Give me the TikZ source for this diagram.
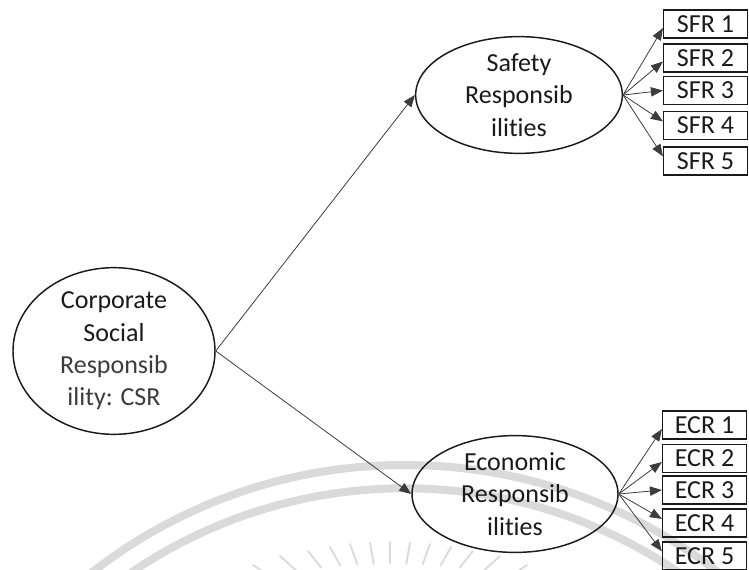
\documentclass[tikz,border=0pt]{standalone}
\usepackage{fontspec}
\setmainfont{Carlito}[Ligatures=NoCommon]
\usetikzlibrary{shapes.geometric,arrows.meta,calc}
\definecolor{ink}{HTML}{1A1A1A}
\definecolor{inksoft}{HTML}{3C3C3C}
\definecolor{wmgray}{HTML}{DADADA}
\begin{document}
\begin{tikzpicture}[x=0.75pt,y=-0.75pt,
  every node/.style={font=\fontsize{19.5}{24.2}\selectfont, text=ink},
  construct/.style={draw=ink, line width=1.1pt, ellipse, inner sep=0pt, align=center},
  indicator/.style={draw=ink, line width=0.9pt, rectangle, minimum width=63pt,
                    minimum height=21pt, inner sep=0pt},
  loading/.style={draw=ink!85, line width=0.6pt, -{Triangle[length=9pt,width=7pt]}},
  wmband/.style={draw=wmgray, line width=6pt},
  wmtick/.style={draw=wmgray, line width=1.4pt, line cap=round}]
\useasboundingbox (0,0) rectangle (749,570);

% faint seal in the background: two rings and a sunburst
\begin{scope}
  \clip (0,0) rectangle (749,570);
  \coordinate (wm) at (405,975);
  \draw[wmband] (wm) circle[radius=382.5pt];
  \draw[wmband] (wm) circle[radius=365pt];
  \coordinate (rays) at (390,655);
  \foreach \x/\y in {253/565,280/556,308/551,330/547,350/544,370/543,390/542,
                     410/543,430/544,451/547,473/551,500/556,527/565}
    \draw[wmtick] (\x,\y) -- ($(\x,\y)!16pt!(rays)$);
\end{scope}

% latent constructs
\node[construct, minimum width=151.5pt, minimum height=121.5pt] (csr) at (114,351)
  {Corporate\\Social\\\textcolor{inksoft}{Responsib}\\\textcolor{inksoft}{ility: CSR}};
\node[construct, minimum width=155pt, minimum height=80pt] (saf) at (519,95)
  {Safety\\Responsib\\ilities};
\node[construct, minimum width=154.5pt, minimum height=81pt] (eco) at (515,494)
  {Economic\\Responsib\\ilities};

% observed indicators
\foreach \i/\y in {1/24,2/58,3/90.5,4/125.5,5/161}
  \node[indicator] (sfr\i) at (705.5,\y) {SFR \i};
\foreach \i/\y in {1/425,2/458.5,3/490,4/523,5/556}
  \node[indicator] (ecr\i) at (704.5,\y) {ECR \i};

% paths
\draw[loading] (csr.east) -- (saf.west);
\draw[loading] (csr.east) -- (eco.west);
\foreach \i/\f in {1/.36,2/.38,3/.5,4/.64,5/.66}{
  \draw[loading] (saf.east) -- ($(sfr\i.south west)!\f!(sfr\i.north west)$);
  \draw[loading] (eco.east) -- ($(ecr\i.south west)!\f!(ecr\i.north west)$);
}
\end{tikzpicture}
\end{document}
